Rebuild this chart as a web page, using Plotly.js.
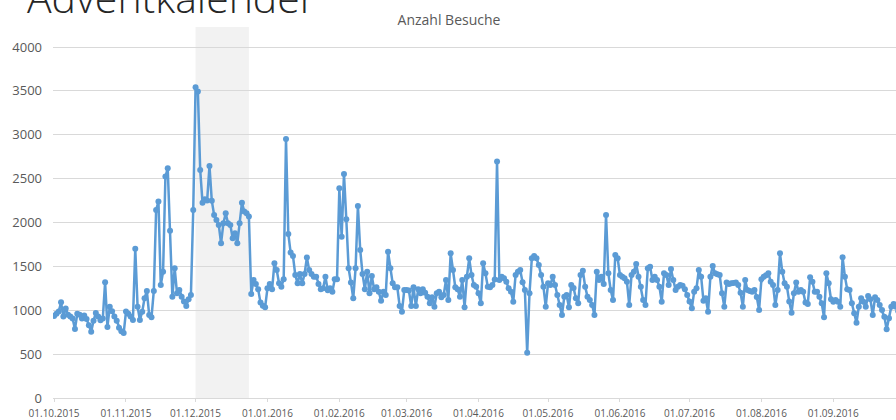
<!DOCTYPE html>
<html><head><meta charset="utf-8">
<script src="https://cdn.plot.ly/plotly-3.0.1.min.js"></script>
<style>html,body{margin:0;padding:0;background:#fff}#chart{width:896px;height:420px}</style>
</head><body><div id="chart"></div>
<script>
// ---- data ----
const firstDay = [2015, 9, 1]; // 01.10.2015 (JS month index 9)
const oct2015 = [935, 960, 985, 1090, 930, 1020, 950, 930, 905, 785, 960, 950, 905, 940, 900, 830, 755, 880, 970, 930, 885, 905, 1320, 810, 1040, 990, 930, 880, 800, 760, 740];
const nov2015 = [985, 960, 930, 890, 1700, 1041, 889, 984, 1136, 1220, 946, 920, 1220, 2143, 2238, 1288, 1440, 2523, 2618, 1907, 1155, 1479, 1193, 1231, 1155, 1100, 1049, 1125, 1174, 2143];
const dec2015 = [3542, 3492, 2599, 2226, 2265, 2250, 2645, 2249, 2086, 2029, 1972, 1763, 1991, 2105, 1991, 1972, 1820, 1877, 1763, 1991, 2226, 2124, 2105, 2067, 1186, 1345, 1300, 1239, 1087, 1050, 1034];
const jan2016 = [1250, 1300, 1239, 1535, 1459, 1307, 1269, 1353, 2952, 1870, 1657, 1619, 1402, 1307, 1414, 1307, 1414, 1600, 1459, 1414, 1383, 1383, 1300, 1239, 1250, 1383, 1227, 1250, 1212, 1353, 1353];
const feb2016 = [2390, 1839, 2554, 2037, 1478, 1315, 1136, 1478, 2189, 1687, 1414, 1239, 1440, 1193, 1391, 1239, 1262, 1212, 1109, 1212, 1174, 1668, 1478, 1307, 1262, 1262, 1049, 984, 1231];
const mar2016 = [1231, 1224, 1049, 1262, 1049, 1239, 1193, 1239, 1200, 1155, 1079, 1148, 1041, 1193, 1212, 1148, 1174, 1345, 1117, 1649, 1459, 1262, 1239, 1155, 1345, 1034, 1383, 1592, 1402, 1288, 1269];
const apr2016 = [1193, 1079, 1535, 1421, 1269, 1262, 1288, 1350, 2694, 1345, 1383, 1364, 1326, 1250, 1212, 1098, 1402, 1440, 1459, 1320, 1231, 516, 1193, 1592, 1619, 1592, 1516, 1402, 1269, 1041];
const may2016 = [1307, 1288, 1383, 1288, 1174, 1060, 946, 1155, 1174, 1034, 1288, 1255, 1136, 1079, 1402, 1451, 1269, 1155, 1117, 1060, 946, 1440, 1345, 1383, 1300, 2086, 1421, 1231, 1117, 1630, 1592];
const jun2016 = [1402, 1383, 1364, 1326, 1060, 1402, 1440, 1528, 1383, 1269, 1117, 1060, 1478, 1497, 1345, 1383, 1345, 1269, 1098, 1421, 1402, 1288, 1470, 1345, 1231, 1269, 1288, 1280, 1239, 1174];
const jul2016 = [1100, 1022, 1212, 1250, 1459, 1383, 1109, 1136, 984, 1383, 1505, 1421, 1410, 1402, 1193, 1041, 1315, 1300, 1307, 1310, 1315, 1288, 1200, 1041, 1345, 1231, 1220, 1212, 1231, 1150, 1003];
const aug2016 = [1352, 1383, 1400, 1421, 1326, 1288, 1060, 1231, 1649, 1440, 1307, 1269, 1100, 972, 1193, 1315, 1212, 1231, 1212, 1087, 1072, 1376, 1326, 1212, 1212, 1155, 1079, 920, 1421, 1307, 1125];
const sep2016 = [1098, 1117, 1098, 1041, 1603, 1383, 1239, 1231, 1080, 965, 858, 1041, 1136, 1098, 1041, 1163, 1125, 946, 1148, 1117, 1060, 1003, 927, 783, 908, 1041, 1072, 1040, 990];

const tickDates = ['2015-10-01','2015-11-01','2015-12-01','2016-01-01','2016-02-01','2016-03-01','2016-04-01','2016-05-01','2016-06-01','2016-07-01','2016-08-01','2016-09-01'];
const tickLabels = ['01.10.2015','01.11.2015','01.12.2015','01.01.2016','01.02.2016','01.03.2016','01.04.2016','01.05.2016','01.06.2016','01.07.2016','01.08.2016','01.09.2016'];
const yTicks = [0, 500, 1000, 1500, 2000, 2500, 3000, 3500, 4000];
const adventStart = '2015-12-01';
const adventEnd = '2015-12-24';
const chartTitle = 'Anzahl Besuche';
const pageTitle = 'Adventkalender';

// ---- build ----
const visits = [].concat(oct2015, nov2015, dec2015, jan2016, feb2016, mar2016, apr2016, may2016, jun2016, jul2016, aug2016, sep2016);
const dates = visits.map((v, i) => new Date(Date.UTC(firstDay[0], firstDay[1], firstDay[2] + i)).toISOString().slice(0, 10));

const trace = {
  type: 'scatter', mode: 'lines+markers',
  x: dates, y: visits,
  line: {color: '#5b9bd5', width: 2.5},
  marker: {color: '#5b9bd5', size: 6},
  hoverinfo: 'skip'
};

const layout = {
  width: 896, height: 420,
  margin: {l: 53, r: 0, t: 27, b: 22, pad: 0},
  paper_bgcolor: '#ffffff', plot_bgcolor: 'rgba(0,0,0,0)',
  showlegend: false,
  title: {text: chartTitle, xref: 'container', yref: 'container', x: 449/896, y: 1 - 20/420,
          xanchor: 'center', yanchor: 'middle',
          font: {family: 'Open Sans, sans-serif', size: 14, color: '#595959'}},
  xaxis: {type: 'date', range: ['2015-09-30 12:42', '2016-09-28 00:43'],
          tickmode: 'array', tickvals: tickDates, ticktext: tickLabels, tickangle: 0,
          showgrid: false, zeroline: false, showline: true, linecolor: '#d9d9d9', linewidth: 1,
          ticks: 'outside', ticklen: 3, tickcolor: '#d9d9d9', ticklabelstandoff: 3,
          tickfont: {family: 'Open Sans, sans-serif', size: 10, color: '#595959'}},
  yaxis: {range: [0, 4228], tickmode: 'array', tickvals: yTicks,
          showgrid: true, gridcolor: '#d9d9d9', gridwidth: 1, zeroline: false, showline: false,
          ticks: '', ticklabelstandoff: 10,
          tickfont: {family: 'Open Sans, sans-serif', size: 13, color: '#595959'}},
  shapes: [{type: 'rect', xref: 'x', yref: 'paper', x0: adventStart, x1: adventEnd, y0: 0, y1: 1,
            fillcolor: '#f2f2f2', line: {width: 0}, layer: 'below'}],
  annotations: [{text: pageTitle, xref: 'paper', yref: 'paper', x: (25 - 53) / 843, xanchor: 'left',
                 y: 1 + (27 + 2.6) / 371, yanchor: 'middle', showarrow: false,
                 font: {family: 'Open Sans, sans-serif', size: 41, color: '#262626', weight: 300}}]
};

Plotly.newPlot('chart', [trace], layout, {staticPlot: true, displayModeBar: false});
</script>
</body></html>
